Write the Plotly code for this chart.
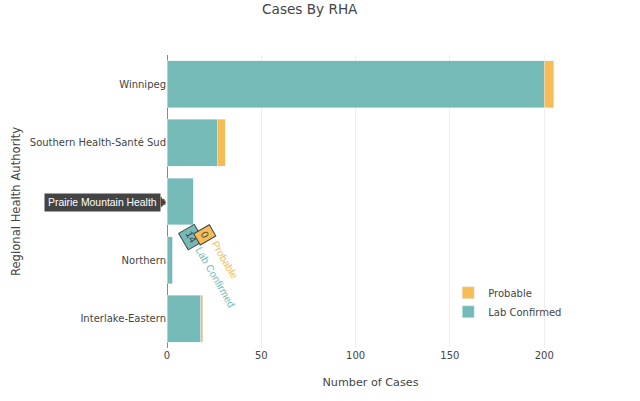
import plotly.graph_objects as go

# Data (bottom-to-top category order, as Plotly draws category axes)
regions = ["Interlake-Eastern", "Northern", "Prairie Mountain Health",
           "Southern Health-Santé Sud", "Winnipeg"]
lab_confirmed = [18, 3, 14, 27, 200]
probable = [1, 0, 0, 4, 5]

hover_region = "Prairie Mountain Health"
hover_lab = 14
hover_prob = 0

TEAL = "rgb(116,187,184)"
ORANGE = "rgb(246,188,86)"
FONT = "DejaVu Sans, Verdana, sans-serif"
HFONT = "Liberation Sans, Arial, sans-serif"

totals = [a + b for a, b in zip(lab_confirmed, probable)]
x_max = max(totals) / 0.95  # same 5% padding Plotly's bar autorange uses

fig = go.Figure()
fig.add_trace(go.Bar(y=regions, x=lab_confirmed, orientation="h",
                     name="Lab Confirmed", marker=dict(color=TEAL)))
fig.add_trace(go.Bar(y=regions, x=probable, orientation="h",
                     name="Probable", marker=dict(color=ORANGE)))

# Emulated hover labels
annotations = [
    dict(x=0, y=hover_region, xref="paper", yref="y", text=hover_region,
         showarrow=False, xanchor="right", yanchor="middle", xshift=-6, yshift=-1,
         bgcolor="#444", borderpad=3, font=dict(family=HFONT, size=10.4, color="white")),
    dict(x=hover_lab, y=hover_region, xref="x", yref="y", text=str(hover_lab),
         showarrow=False, textangle=60, xshift=-2, yshift=-36,
         bgcolor=TEAL, bordercolor="#444", borderwidth=1, borderpad=3,
         font=dict(family=HFONT, size=10.4, color="#444")),
    dict(x=hover_lab + hover_prob, y=hover_region, xref="x", yref="y", text=str(hover_prob),
         showarrow=False, textangle=60, xshift=12, yshift=-33.5,
         bgcolor=ORANGE, bordercolor="#444", borderwidth=1, borderpad=3,
         font=dict(family=HFONT, size=10.4, color="#444")),
    dict(x=hover_lab, y=hover_region, xref="x", yref="y", text="Lab Confirmed",
         showarrow=False, textangle=60, xshift=22, yshift=-76,
         font=dict(family=HFONT, size=10.4, color=TEAL)),
    dict(x=hover_lab + hover_prob, y=hover_region, xref="x", yref="y", text="Probable",
         showarrow=False, textangle=60, xshift=32, yshift=-58.5,
         font=dict(family=HFONT, size=10.4, color=ORANGE)),
]

shapes = [
    dict(type="path", xref="paper", yref="y", xsizemode="pixel", ysizemode="pixel",
         xanchor=0, yanchor=hover_region, path="M -6 4 L -1 -1 L -6 -6 Z",
         fillcolor="#444", line=dict(width=0)),
]

fig.update_layout(
    width=640, height=401,
    barmode="stack",
    bargap=0.2,
    plot_bgcolor="white", paper_bgcolor="white",
    font=dict(family=FONT, size=10, color="#444"),
    margin=dict(l=167, r=66, t=55, b=53, autoexpand=False),
    title=dict(text="Cases By RHA", x=0.484, xref="container", xanchor="center",
               y=0.978, yref="container", yanchor="middle",
               font=dict(family=FONT, size=13.6, color="#444")),
    xaxis=dict(title=dict(text="Number of Cases", font=dict(size=11.2), standoff=18),
               range=[0, x_max],
               showgrid=True, gridcolor="#eee", zeroline=True, zerolinecolor="#888",
               zerolinewidth=1, tickfont=dict(size=10), automargin=False),
    yaxis=dict(title=dict(text="Regional Health Authority", font=dict(size=11.6), standoff=6),
               showgrid=False, tickfont=dict(size=10), automargin=False),
    legend=dict(x=0.691, y=0.238, xanchor="left", yanchor="top",
                traceorder="reversed", bgcolor="rgba(0,0,0,0)",
                font=dict(size=10)),
    annotations=annotations,
    shapes=shapes,
)

fig.write_html("out.html", config={"displayModeBar": False},
               post_script="document.body.style.margin='0';")
